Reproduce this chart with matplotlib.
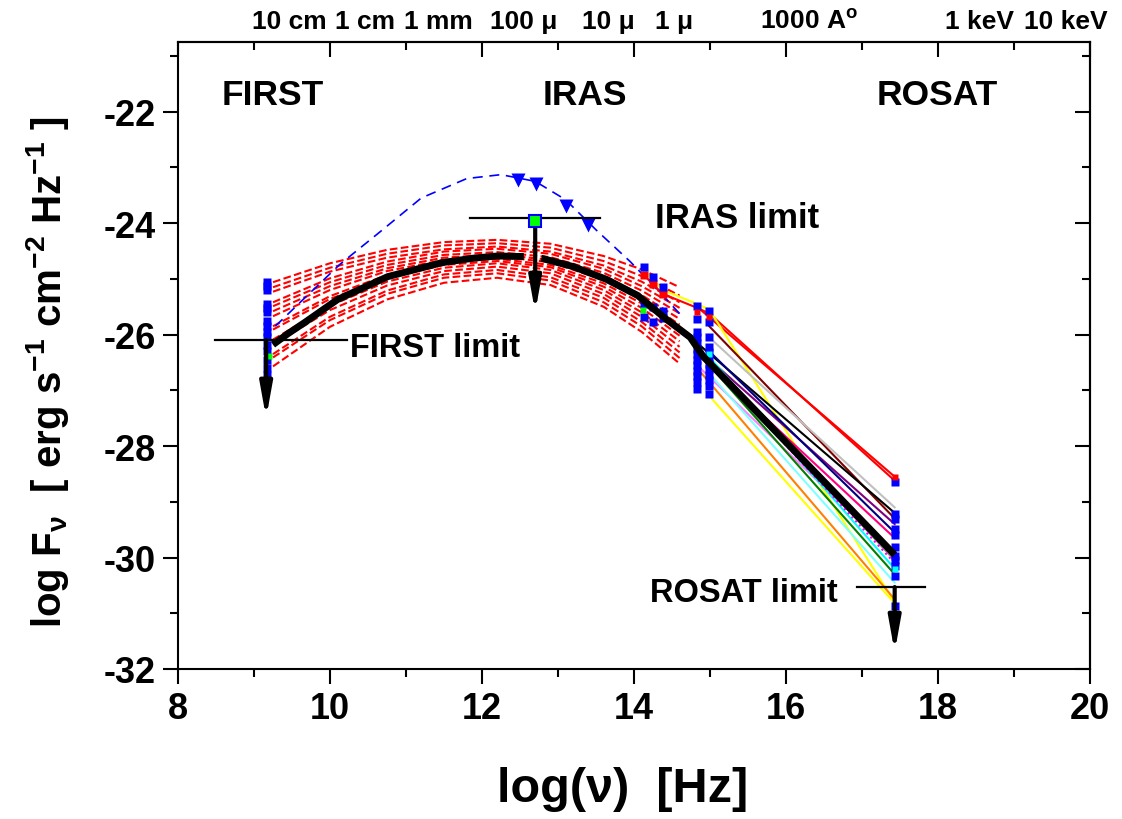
import matplotlib
matplotlib.use("Agg")
import matplotlib.pyplot as plt
import numpy as np

plt.rcParams['font.family'] = ['Liberation Sans', 'DejaVu Sans']
plt.rcParams['font.weight'] = 'bold'
plt.rcParams['mathtext.fontset'] = 'custom'
plt.rcParams['mathtext.rm'] = 'Liberation Sans:bold'
plt.rcParams['mathtext.it'] = 'Liberation Sans:bold'
plt.rcParams['mathtext.bf'] = 'Liberation Sans:bold'
plt.rcParams['axes.unicode_minus'] = False

# ---------------- data ----------------
# red dashed model curves (log-parabola fits), sampled x positions
red_x = [9.25, 10.0, 10.75, 11.5, 12.2, 12.9, 13.6, 14.1, 14.6]
red_curves = [
    [-25.06, -24.72, -24.48, -24.34, -24.30, -24.37, -24.59, -24.83, -25.15],
    [-25.15, -24.80, -24.55, -24.40, -24.36, -24.44, -24.68, -24.95, -25.30],
    [-25.23, -24.87, -24.62, -24.47, -24.42, -24.51, -24.76, -25.05, -25.42],
    [-25.42, -24.99, -24.69, -24.51, -24.46, -24.55, -24.82, -25.13, -25.52],
    [-25.49, -25.06, -24.75, -24.57, -24.52, -24.61, -24.89, -25.21, -25.62],
    [-25.58, -25.13, -24.81, -24.62, -24.56, -24.66, -24.95, -25.29, -25.72],
    [-25.67, -25.20, -24.86, -24.66, -24.60, -24.70, -25.02, -25.37, -25.82],
    [-25.85, -25.31, -24.93, -24.71, -24.64, -24.75, -25.08, -25.44, -25.92],
    [-25.91, -25.36, -24.98, -24.75, -24.68, -24.79, -25.14, -25.52, -26.02],
    [-26.09, -25.48, -25.05, -24.80, -24.72, -24.84, -25.20, -25.60, -26.12],
    [-26.18, -25.56, -25.12, -24.86, -24.78, -24.90, -25.27, -25.68, -26.22],
    [-26.35, -25.68, -25.21, -24.92, -24.84, -24.97, -25.34, -25.77, -26.32],
    [-26.41, -25.74, -25.27, -24.98, -24.90, -25.03, -25.42, -25.85, -26.42],
    [-26.57, -25.86, -25.37, -25.07, -24.98, -25.11, -25.50, -25.95, -26.52],
]

# blue dashed curve and IRAS detections (triangles)
blue_x = [9.28, 9.7, 10.13, 10.7, 11.2, 11.8, 12.25, 12.7, 13.1, 13.5, 13.95, 14.43, 14.65]
blue_y = [-25.85, -25.30, -24.74, -24.11, -23.55, -23.20, -23.13, -23.25, -23.58, -24.12, -24.69, -25.37, -25.70]
tri_x = [12.47, 12.71, 13.10, 13.39]
tri_y = [-23.22, -23.29, -23.70, -24.04]

# mean SED (thick black), two pieces
mean1_x = [9.25, 9.45, 9.67, 10.1, 10.76, 11.47, 11.88, 12.2, 12.55]
mean1_y = [-26.18, -25.98, -25.78, -25.37, -24.96, -24.71, -24.63, -24.59, -24.60]
mean2_x = [12.78, 13.2, 13.64, 14.05, 14.43, 14.74, 14.91, 17.43]
mean2_y = [-24.63, -24.78, -25.01, -25.30, -25.73, -26.05, -26.39, -29.95]

# photometric points (blue squares)
first_x = 9.17
first_y = [-25.05, -25.12, -25.20, -25.45, -25.52, -25.60, -25.75, -25.85, -25.95,
           -26.05, -26.18, -26.30, -26.45, -26.60, -26.72]
nir_x = [14.13, 14.25, 14.38, 14.13, 14.25, 14.38, 14.13, 14.25, 14.38]
nir_y = [-24.78, -24.97, -25.15, -25.45, -25.50, -25.58, -25.68, -25.78, -25.70]
nir_red_x = [14.13, 14.25, 14.38]
nir_red_y = [-24.93, -25.10, -25.27]
opt1_x = 14.83
opt1_y = [-25.48, -25.72, -25.95, -26.05, -26.15, -26.25, -26.35, -26.45, -26.55,
          -26.65, -26.75, -26.85, -26.98]
opt2_x = 14.99
opt2_y = [-25.58, -25.78, -26.05, -26.22, -26.32, -26.42, -26.52, -26.62, -26.72,
          -26.82, -26.93, -27.07]
rosat_x = 17.43
rosat_y = [-28.65, -29.22, -29.30, -29.49, -29.60, -29.81, -29.97, -30.05, -30.15,
           -30.33, -30.87]

# individual optical -> X-ray connections
conn_x0 = [14.83, 14.99, 14.99, 14.99, 14.83, 14.99, 14.83, 14.99, 14.83, 14.99,
           14.83, 14.99, 14.99, 14.99, 14.83, 14.99, 14.99]
conn_y0 = [-25.50, -25.62, -25.55, -25.85, -26.15, -26.05, -26.25, -26.30, -26.35,
           -26.45, -26.55, -26.40, -26.70, -26.55, -26.60, -27.10, -26.50]
conn_y1 = [-28.55, -28.62, -30.80, -29.30, -29.20, -29.10, -29.40, -29.55, -29.65,
           -30.05, -29.95, -30.20, -30.45, -30.30, -30.75, -30.82, -30.10]
conn_colors = ['#ff0000', '#ff0000', '#ffff00', '#800000', '#000000', '#c0c0c0',
               '#800080', '#000080', '#ff0080', '#808080', '#ff80ff', '#00ffff',
               '#80ffff', '#008000', '#ff8000', '#ffff00', '#ff00ff']

# near-IR -> optical connections
nirconn_x = [14.13, 14.25, 14.38, 14.83, 14.99]
nirconn_y_yellow = [-24.85, -25.02, -25.20, -25.45, -25.55]
nirconn_y_red = [-24.93, -25.10, -25.27, -25.52, -25.62]

# upper limits: (x, y of bar, bar x-extent, arrow end)
lim_first = dict(x=9.16, y=-26.10, x0=8.49, x1=10.22, yend=-27.5)
lim_iras = dict(x=12.70, y=-23.90, x0=11.84, x1=13.55, yend=-25.6)
lim_rosat = dict(x=17.43, y=-30.53, x0=16.93, x1=17.83, yend=-31.7)

top_labels = ['10 cm', '1 cm', '1 mm', '100 μ', '10 μ', '1 μ', r'1000 A$^{\mathrm{o}}$', '1 keV', '10 keV']
top_label_x = [9.46, 10.46, 11.42, 12.55, 13.66, 14.53, 16.30, 18.55, 19.68]

# ---------------- figure ----------------
fig = plt.figure(figsize=(11.22, 8.20), dpi=100)
ax = fig.add_axes([178/1122, 1-670/820, (1090-178)/1122, (670-43)/820])

for cy in red_curves:
    ax.plot(red_x, cy, color='#ff0000', ls='--', lw=1.5, zorder=2)

ax.plot(blue_x, blue_y, color='#0000ff', lw=1.2, dashes=(6, 4), zorder=2)

# connection lines
ax.plot(nirconn_x, nirconn_y_yellow, color='#ffff00', lw=1.5, zorder=3)
ax.plot(nirconn_x, nirconn_y_red, color='#ff0000', lw=1.5, zorder=3)
for x0, y0, y1, c in zip(conn_x0, conn_y0, conn_y1, conn_colors):
    ls = ':' if c == '#ff00ff' else '-'
    ax.plot([x0, rosat_x], [y0, y1], color=c, lw=1.5, ls=ls, zorder=3)

# squares
ax.plot(nir_red_x, nir_red_y, 's', color='#ff0000', ms=6, mec='none', zorder=4)
ax.plot([first_x] * len(first_y), first_y, 's', color='#0000ff', ms=6, mec='none', zorder=4)
ax.plot(nir_x, nir_y, 's', color='#0000ff', ms=6, mec='none', zorder=4)
ax.plot([opt1_x] * len(opt1_y), opt1_y, 's', color='#0000ff', ms=6, mec='none', zorder=4)
ax.plot([opt2_x] * len(opt2_y), opt2_y, 's', color='#0000ff', ms=6, mec='none', zorder=4)
ax.plot([rosat_x] * len(rosat_y), rosat_y, 's', color='#0000ff', ms=6, mec='none', zorder=4)
ax.plot([14.83, 14.99, rosat_x], [-25.60, -25.68, -28.55], 's', color='#ff0000', ms=5, mec='none', zorder=4)
ax.plot([14.12, 9.2], [-25.55, -26.38], 's', color='#00ff00', ms=5, mec='none', zorder=5)
ax.plot([rosat_x, 14.99], [-30.20, -26.35], 's', color='#00ffff', ms=5, mec='none', zorder=5)

# mean SED
ax.plot(mean1_x, mean1_y, color='k', lw=5, solid_capstyle='butt', zorder=6)
ax.plot(mean2_x, mean2_y, color='k', lw=5, solid_capstyle='butt', zorder=6)

ax.plot(tri_x, tri_y, 'v', color='#0000ff', ms=10, mec='none', zorder=5)

# upper limits
for lim in (lim_first, lim_iras, lim_rosat):
    ax.plot([lim['x0'], lim['x1']], [lim['y'], lim['y']], color='k', lw=1.6, zorder=7)
    ax.annotate('', xy=(lim['x'], lim['yend']), xytext=(lim['x'], lim['y']),
                arrowprops=dict(arrowstyle='-|>,head_length=1.0,head_width=0.18',
                                lw=3, color='k', shrinkA=0, shrinkB=0, mutation_scale=20),
                zorder=7)
ax.plot([12.70], [-23.97], 's', color='#00ff00', mec='#0000ff', mew=1.5, ms=8, zorder=8)

# texts
ax.text(9.25, -21.70, 'FIRST', ha='center', va='center', fontsize=25.5, fontweight='bold')
ax.text(13.36, -21.70, 'IRAS', ha='center', va='center', fontsize=25.5, fontweight='bold')
ax.text(17.99, -21.70, 'ROSAT', ha='center', va='center', fontsize=25.5, fontweight='bold')
ax.text(14.28, -23.90, 'IRAS limit', ha='left', va='center', fontsize=25, fontweight='bold')
ax.text(10.26, -26.23, 'FIRST limit', ha='left', va='center', fontsize=23.5, fontweight='bold')
ax.text(14.21, -30.62, 'ROSAT limit', ha='left', va='center', fontsize=23.5, fontweight='bold')

for lbl, tx in zip(top_labels, top_label_x):
    ax.text(tx, 1.0 + 21/627, lbl, transform=ax.get_xaxis_transform(), ha='center',
            va='center', fontsize=19, fontweight='bold')

# axes
ax.set_xlim(8, 20)
ax.set_ylim(-32, -20.75)
ax.set_xticks([8, 10, 12, 14, 16, 18, 20])
ax.set_xticks(np.arange(9, 20, 2), minor=True)
ax.set_yticks([-32, -30, -28, -26, -24, -22])
ax.set_yticks([-31, -29, -27, -25, -23, -21], minor=True)
for s in ax.spines.values():
    s.set_linewidth(1.5)
ax.tick_params(which='both', direction='out', top=False, right=False, width=1.5,
               labelsize=26)
ax.tick_params(which='major', length=11, pad=5)
ax.tick_params(which='minor', length=6)
for t in ax.get_xticklabels() + ax.get_yticklabels():
    t.set_fontweight('bold')

# inward ticks on top and right
ax_t = ax.secondary_xaxis('top')
ax_t.set_xticks([8, 10, 12, 14, 16, 18, 20])
ax_t.set_xticks(np.arange(9, 20, 2), minor=True)
ax_t.tick_params(which='both', direction='in', width=1.5, labeltop=False)
ax_t.tick_params(which='major', length=11)
ax_t.tick_params(which='minor', length=6)
ax_r = ax.secondary_yaxis('right')
ax_r.set_yticks([-32, -30, -28, -26, -24, -22])
ax_r.set_yticks([-31, -29, -27, -25, -23, -21], minor=True)
ax_r.tick_params(which='both', direction='in', width=1.5, labelright=False)
ax_r.tick_params(which='major', length=11)
ax_r.tick_params(which='minor', length=6)
for a in (ax_t, ax_r):
    for s in a.spines.values():
        s.set_linewidth(1.5)

fig.text(623/1122, 1-790/820, 'log(ν)  [Hz]', ha='center', va='center', fontsize=35,
         fontweight='bold')
fig.text(48/1122, 1-372/820, r'log F$_{\nu}$  [ erg s$^{-1}$ cm$^{-2}$ Hz$^{-1}$ ]',
         rotation=90, ha='center', va='center', fontsize=29, fontweight='bold')

fig.savefig('out.png', dpi=100)
